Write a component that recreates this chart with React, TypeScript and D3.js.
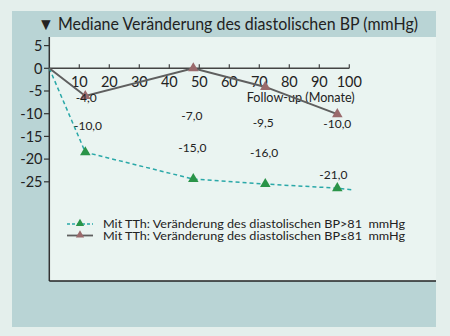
import React from "react";
import * as d3 from "d3";

const TITLE = "▼ Mediane Veränderung des diastolischen BP (mmHg)";
const X_LABEL = "Follow-up (Monate)";
const xTicks = [10, 20, 30, 40, 50, 60, 70, 80, 90, 100];
const yTicks = [5, 0, -5, -10, -15, -20, -25];

// series BP>81 (teal dashed, green markers)
const highMonths = [0, 12, 48, 72, 96, 101];
const highValues = [0, -18.5, -24.4, -25.5, -26.4, -26.8];
const highMarkers = [false, true, true, true, true, false];

// series BP<=81 (grey solid, mauve markers)
const lowMonths = [0, 12, 48, 72, 96];
const lowValues = [0, -6.1, 0, -4.1, -10.1];
const lowMarkers = [false, true, true, true, true];

// printed annotation values and their anchor positions (month, value units)
const annoText = ["-4,0", "-10,0", "-7,0", "-15,0", "-9,5", "-16,0", "-10,0", "-21,0"];
const annoMonth = [12.3, 12.9, 47.5, 47.7, 71.3, 71.6, 96, 94.7];
const annoValue = [-6.4, -12.7, -10.4, -17.6, -12.1, -18.6, -12.3, -23.5];

const legendLabels = [
  "Mit TTh: Veränderung des diastolischen BP>81\u00a0\u00a0mmHg",
  "Mit TTh: Veränderung des diastolischen BP≤81\u00a0\u00a0mmHg",
];

const FONT = "Lato, 'Open Sans', sans-serif";

export default function App() {
  const W = 450, H = 336;
  const x = d3.scaleLinear().domain([0, 100]).range([49.3, 349.3]);
  const y = d3.scaleLinear().domain([0, -25]).range([68.3, 181.8]);
  const tri = d3.symbol().type(d3.symbolTriangle).size(48);

  const highLine = d3.line<number>().x((_, i) => x(highMonths[i])).y((d) => y(d))(highValues) || "";
  const lowLine = d3.line<number>().x((_, i) => x(lowMonths[i])).y((d) => y(d))(lowValues) || "";

  const plotLeft = 49.3, plotTop = 37, plotRight = 436, plotBottom = 281;

  return (
    <div style={{ position: "fixed", left: 0, top: 0 }}>
      <svg width={W} height={H} style={{ display: "block" }} fontFamily={FONT}>
        <rect x={0} y={0} width={W} height={H} fill="#e4efec" />
        <rect x={12} y={11} width={424} height={316} fill="#b9d4d5" />
        <rect x={plotLeft} y={plotTop} width={plotRight - plotLeft} height={plotBottom - plotTop} fill="#eaf4f1" />
        <text x={38} y={30} fontSize={17} fill="#222" textLength={380} lengthAdjust="spacingAndGlyphs">{TITLE}</text>

        {/* frame */}
        <line x1={plotLeft} x2={plotLeft} y1={plotTop} y2={plotBottom} stroke="#333" strokeWidth={1.5} />
        <line x1={plotLeft} x2={plotRight} y1={plotBottom} y2={plotBottom} stroke="#222" strokeWidth={1.5} />

        {/* y axis ticks */}
        {yTicks.map((t) => (
          <g key={t}>
            <line x1={44} x2={plotLeft} y1={y(t)} y2={y(t)} stroke="#333" strokeWidth={1.2} />
            <text x={42.5} y={y(t)} dy="0.36em" textAnchor="end" fontSize={14.5} fill="#222">{t}</text>
          </g>
        ))}

        {/* x axis at zero */}
        <line x1={x(0)} x2={x(100)} y1={y(0)} y2={y(0)} stroke="#444" strokeWidth={1.6} />
        {xTicks.map((t) => (
          <g key={t}>
            <line x1={x(t)} x2={x(t)} y1={y(0)} y2={y(0) - 4} stroke="#444" strokeWidth={1.2} />
            <text x={x(t)} y={y(0) + 18.5} textAnchor="middle" fontSize={14.5} fill="#222">{t}</text>
          </g>
        ))}
        <text x={246.7} y={102} fontSize={12.5} fill="#222" textLength={108} lengthAdjust="spacingAndGlyphs">{X_LABEL}</text>

        {/* series */}
        <path d={highLine} fill="none" stroke="#2aa8a8" strokeWidth={1.5} strokeDasharray="4,3" />
        <path d={lowLine} fill="none" stroke="#5f5f5f" strokeWidth={2} />
        {highValues.map((v, i) =>
          highMarkers[i] ? (
            <path key={"h" + i} d={tri() || ""} transform={`translate(${x(highMonths[i])},${y(v)})`} fill="#2a9448" />
          ) : null
        )}
        {lowValues.map((v, i) =>
          lowMarkers[i] ? (
            <path key={"l" + i} d={tri() || ""} transform={`translate(${x(lowMonths[i])},${y(v)})`} fill="#9a6a6c" />
          ) : null
        )}

        {/* annotations */}
        {annoText.map((t, i) => (
          <text key={"a" + i} x={x(annoMonth[i])} y={y(annoValue[i])} dy="0.35em" textAnchor="middle" fontSize={12} fill="#222">{t}</text>
        ))}

        {/* legend */}
        {legendLabels.map((l, i) => {
          const ly = 224 + i * 11.5;
          return (
            <g key={"lg" + i}>
              <line x1={67} x2={93} y1={ly} y2={ly} stroke={i === 0 ? "#2aa8a8" : "#5f5f5f"} strokeWidth={i === 0 ? 1.3 : 1.8} strokeDasharray={i === 0 ? "3,2" : undefined} />
              <path d={d3.symbol().type(d3.symbolTriangle).size(30)() || ""} transform={`translate(80,${ly - 0.5})`} fill={i === 0 ? "#2a9448" : "#9a6a6c"} />
              <text x={103} y={ly} dy="0.35em" fontSize={11.5} fill="#222" textLength={302} lengthAdjust="spacingAndGlyphs">{l}</text>
            </g>
          );
        })}
      </svg>
    </div>
  );
}
